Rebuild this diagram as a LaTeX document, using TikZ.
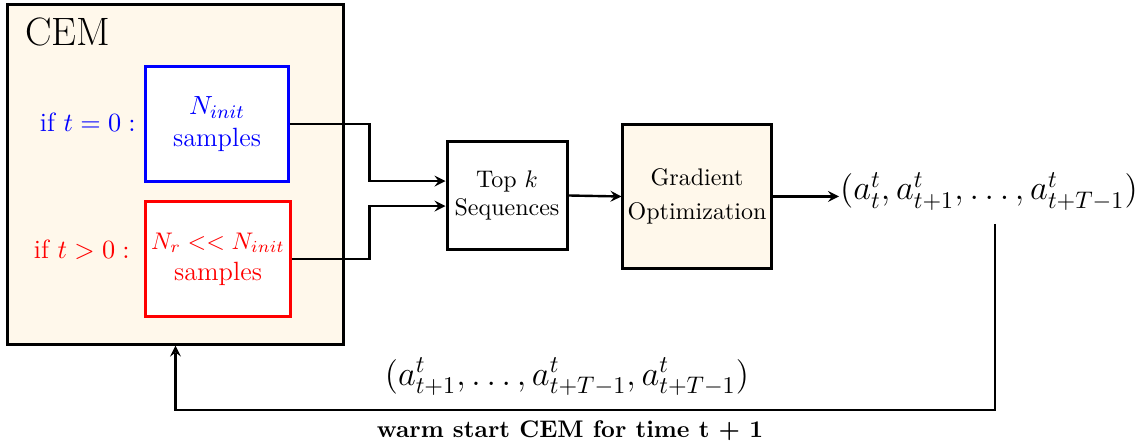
\documentclass[tikz,border=0pt]{standalone}
\usetikzlibrary{positioning}
\definecolor{cemcream}{RGB}{255,248,235}
\newcommand{\aseq}[1]{a^{t}_{#1}}

\begin{document}
\begin{tikzpicture}[x=0.4167pt, y=-0.4167pt, line width=1pt, >=stealth,
    box/.style={draw, line width=1.25pt, inner sep=0pt, align=center},
    big/.style={font=\fontsize{11}{13}\selectfont}]
  \useasboundingbox (0,0) rectangle (1139,442);
  % CEM block
  \node[box, fill=cemcream, minimum width=139.6pt, minimum height=141.3pt] (cem) at (175.5,174.5) {};
  \node[anchor=north west, inner sep=0pt, font=\fontsize{16.5}{19}\selectfont] (cemlbl) at (24,17) {CEM};
  \node[box, big, draw=blue, text=blue, fill=white, minimum width=60pt, minimum height=48.3pt] (init) at (217,124) {$N_{init}$\\samples};
  \node[box, big, draw=red, text=red, fill=white, minimum width=60.8pt, minimum height=48.3pt] (rest) at (218,259) {{\fontsize{10.4}{13}\selectfont$N_r << N_{init}$}\\samples};
  \node[big, text=blue, anchor=east, inner sep=0pt] (initif) at (137,122) {if $t = 0:$};
  \node[big, text=red, anchor=east, inner sep=0pt] (restif) at (131,250) {if $t > 0:$};
  % selection and refinement
  \node[box, minimum width=50pt, minimum height=45.4pt] (top) at (507,195.5) {Top $k$\\Sequences};
  \node[box, fill=cemcream, minimum width=61.7pt, minimum height=60.4pt] (grad) at (697,196.5) {Gradient\\[2pt]Optimization};
  \node[anchor=base west, inner sep=0pt, font=\fontsize{14.1}{17}\selectfont] (plan) at (839,200) {$(\aseq{t}, \aseq{t+1}, \ldots, \aseq{t+T-1})$};
  \node[font=\fontsize{14.9}{18}\selectfont] (carry) at (567,377) {$(\aseq{t+1}, \ldots, \aseq{t+T-1}, \aseq{t+T-1})$};
  \node[font=\bfseries] (warm) at (570,431) {warm start CEM for time t + 1};
  \coordinate (fbtop) at (995,224);
  \coordinate (fbcorner) at (995,410);
  % connectors
  \draw[->] (init.east) -- ++(79,0) |- ([yshift=6pt]top.west);
  \draw[->] (rest.east) -- ++(77,0) |- ([yshift=-4.4pt]top.west);
  \draw[->] (top.east) -- (grad.west);
  \draw[->] (grad.east) -- (grad.east -| plan.west);
  \draw[->] (fbtop) -- (fbcorner) -| (cem.south);
\end{tikzpicture}
\end{document}
